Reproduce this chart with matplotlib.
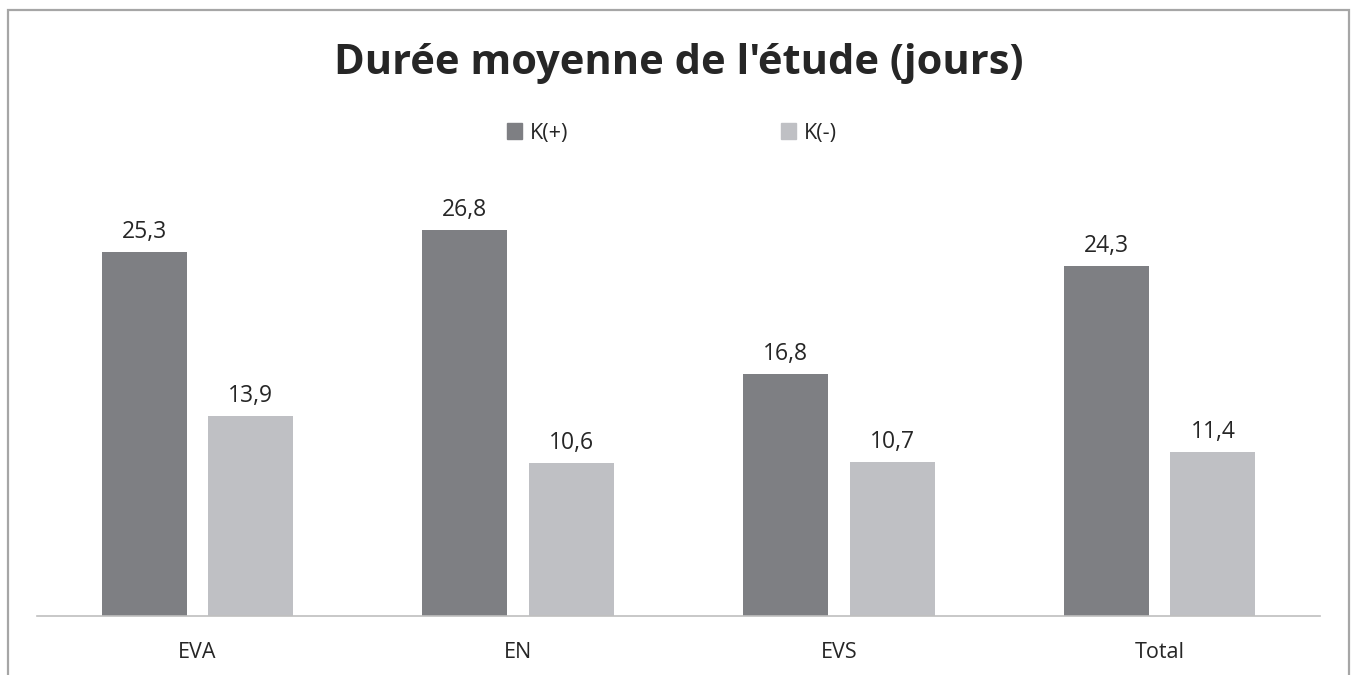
import numpy as np
import matplotlib.pyplot as plt
from matplotlib.patches import Rectangle, Patch

plt.rcParams['font.family'] = ['Open Sans', 'DejaVu Sans']

# Data
categories = ["EVA", "EN", "EVS", "Total"]
k_plus = [25.3, 26.8, 16.8, 24.3]
k_minus = [13.9, 10.6, 10.7, 11.4]
series_names = ["K(+)", "K(-)"]

col_plus = "#7e7f83"
col_minus = "#bfc0c4"
text_col = "#262626"

fig = plt.figure(figsize=(13.57, 6.75), dpi=100)
ax = fig.add_axes([37 / 1357, 59 / 675, 1283 / 1357, 431.7 / 675])

x = np.arange(len(categories))
w = 0.265
off = 0.166
b1 = ax.bar(x - off, k_plus, w, color=col_plus)
b2 = ax.bar(x + off, k_minus, w, color=col_minus)

# value labels above each bar, decimal comma
for bars in (b1, b2):
    for bar in bars:
        h = bar.get_height()
        ax.annotate(f"{h:.1f}".replace(".", ","), (bar.get_x() + bar.get_width() / 2, h),
                    xytext=(0, 6), textcoords="offset points", ha="center", va="bottom",
                    fontsize=16.5, color=text_col)

ax.set_xlim(-0.5, 3.5)
ax.set_ylim(0, 30)
ax.set_xticks(x)
ax.set_xticklabels(categories, fontsize=15.5, color=text_col)
ax.tick_params(axis="x", length=0, pad=19)
ax.set_yticks([])
for s in ("top", "right", "left"):
    ax.spines[s].set_visible(False)
ax.spines["bottom"].set_color("#bfbfbf")
ax.spines["bottom"].set_linewidth(1.2)

fig.text(0.5, 1 - 64 / 675, "Durée moyenne de l'étude (jours)", ha="center", va="center",
         fontsize=30, fontweight="bold", color=text_col)

handles = [Patch(color=col_plus), Patch(color=col_minus)]
fig.legend(handles, series_names, loc="center", bbox_to_anchor=(672 / 1357, 1 - 133 / 675),
           ncol=2, frameon=False, fontsize=15.5, handlelength=0.7, handleheight=0.7,
           handletextpad=0.34, columnspacing=9.9, labelcolor=text_col)

# outer chart border (runs off the bottom of the picture)
fig.patches.append(Rectangle((8 / 1357, -0.1), 1341 / 1357, 1.1 - 10 / 675,
                             transform=fig.transFigure, fill=False,
                             edgecolor="#a6a6a6", linewidth=1.6))

fig.savefig("out.png", dpi=100)
